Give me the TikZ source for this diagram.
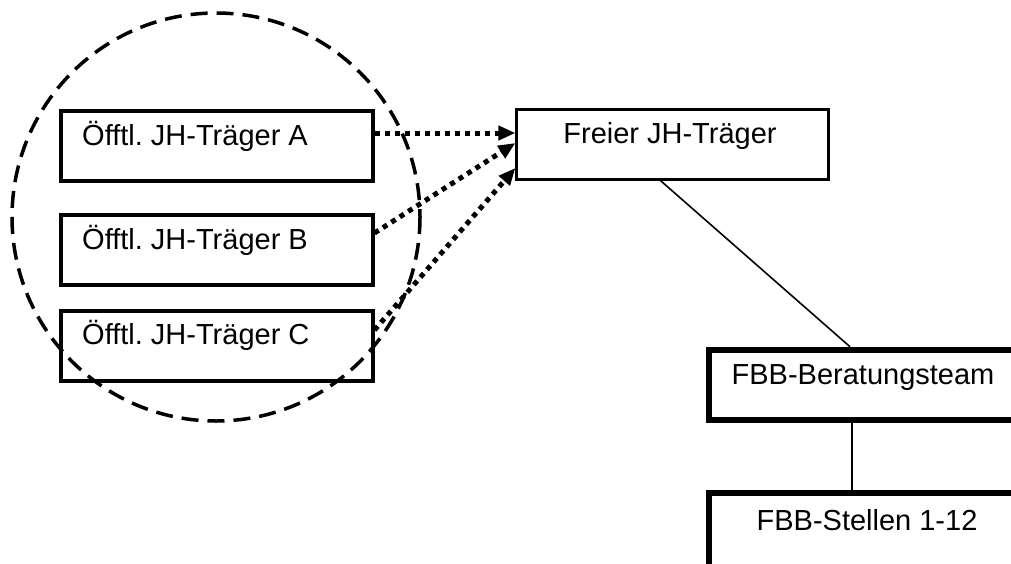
\documentclass[tikz,border=0pt]{standalone}
\usepackage{fontspec}
\setmainfont{Liberation Sans}
\usetikzlibrary{arrows.meta}
\frenchspacing
\begin{document}
\begin{tikzpicture}[x=1pt,y=-1pt,
  txt/.style={inner sep=0pt,font=\fontsize{29}{34}\selectfont\frenchspacing},
  pubbox/.style={draw,line width=4pt,inner sep=0pt,minimum width=312pt,minimum height=70pt},
  freebox/.style={draw,line width=2.2pt,inner sep=0pt,minimum width=312pt,minimum height=70pt},
  fbbbox/.style={draw,line width=6.5pt,inner sep=0pt,minimum width=312pt,minimum height=70pt},
  dotarrow/.style={line width=5pt,dash pattern=on 5pt off 5pt,-{Triangle[length=17pt,width=14pt]}},
  link/.style={line width=1.6pt}]
\useasboundingbox (0,0) rectangle (1011,563);
\clip (0,0) rectangle (1011,563);
% dashed group circle
\draw[line width=3.5pt,dash pattern=on 17pt off 9pt] (216,217) circle[radius=204];
% public boxes
\node[pubbox] (A) at (216.5,145.5) {};
\node[pubbox] (B) at (216.5,249.5) {};
\node[pubbox] (C) at (216.5,345.5) {};
\node[txt,anchor=base west] (At) at (82,145) {Öfftl. JH-Träger A};
\node[txt,anchor=base west] (Bt) at (82,249) {Öfftl. JH-Träger B};
\node[txt,anchor=base west] (Ct) at (82,344) {Öfftl. JH-Träger C};
% free carrier
\node[freebox] (F) at (672.5,144.5) {};
\node[txt,anchor=base] (Ft) at (670,143) {Freier JH-Träger};
% FBB boxes
\node[fbbbox] (FB) at (865,385) {};
\node[txt,anchor=base] (FBt) at (863,384) {FBB-Beratungsteam};
\node[fbbbox,minimum height=120pt] (FS) at (865,553) {};
\node[txt,anchor=base] (FSt) at (867,530) {FBB-Stellen 1-12};
% dotted arrows
\draw[dotarrow] (A.east |- {(0,133)}) -- (F.west |- {(0,133)});
\draw[dotarrow] (B.east |- {(0,233)}) -- (F.west |- {(0,143)});
\draw[dotarrow] (C.east |- {(0,330)}) -- (F.west |- {(0,168)});
% solid links
\draw[link] ([xshift=-12pt]F.south) -- ([xshift=-15pt]FB.north);
\draw[link] ([xshift=-13pt]FB.south) -- ([xshift=-13pt]FS.north);
\end{tikzpicture}
\end{document}
